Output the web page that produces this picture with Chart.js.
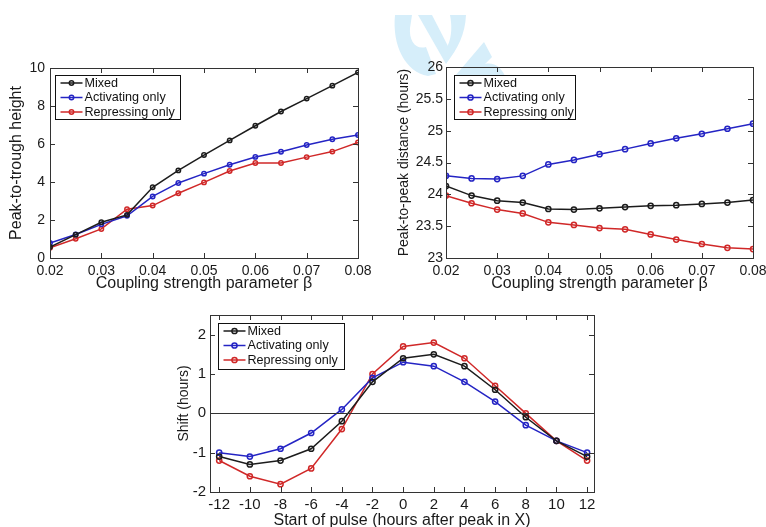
<!DOCTYPE html>
<html>
<head>
<meta charset="utf-8">
<title>Coupling and pulse response</title>
<script src="https://cdn.jsdelivr.net/npm/chart.js@4.4.1/dist/chart.umd.min.js"></script>
<style>
    body { margin: 0; width: 766px; height: 527px; background: #fff; position: relative; overflow: hidden; }
    canvas { position: absolute; }
    #heightChart { left: 0; top: 50px; }
    #distanceChart { left: 383px; top: 50px; }
    #shiftChart { left: 160px; top: 300px; }
    #logo { position: absolute; left: 0; top: 0; }
</style>
</head>
<body>
<svg id="logo" width="766" height="80">
    <g fill="#d6eefa">
        <path d="M395,15 C392,45 405,72 428,76 L436,74 L426,47 C415,50 409,40 410,28 L412,15 Z"/>
        <path d="M418,15 L432,15 L450,50 L446,64 Z"/>
        <path d="M450,15 L466,15 C465,35 458,48 446,64 L448,45 C452,36 452,25 450,15 Z"/>
        <path d="M455,76 L484,42 L492,57 L485,64 C495,62 501,68 505,76 Z"/>
    </g>
</svg>
<canvas id="heightChart" width="375" height="250"></canvas>
<canvas id="distanceChart" width="384" height="250"></canvas>
<canvas id="shiftChart" width="445" height="232"></canvas>

<script>
// Coupling strength sweep (top two panels)
const betaValues = [0.02, 0.025, 0.03, 0.035, 0.04, 0.045, 0.05, 0.055, 0.06, 0.065, 0.07, 0.075, 0.08];
const betaTicks = [0.02, 0.03, 0.04, 0.05, 0.06, 0.07, 0.08];

const heightMixed = [0.58, 1.23, 1.88, 2.27, 3.72, 4.61, 5.42, 6.19, 6.96, 7.71, 8.39, 9.07, 9.77];
const heightActivating = [0.79, 1.24, 1.77, 2.22, 3.24, 3.95, 4.44, 4.91, 5.32, 5.59, 5.95, 6.25, 6.47];
const heightRepressing = [0.54, 1.01, 1.53, 2.57, 2.76, 3.41, 3.98, 4.58, 5.0, 5.0, 5.31, 5.6, 6.08];
const heightTicks = [0, 2, 4, 6, 8, 10];

const distanceMixed = [24.13, 23.98, 23.9, 23.87, 23.77, 23.76, 23.78, 23.8, 23.82, 23.83, 23.85, 23.87, 23.91];
const distanceActivating = [24.29, 24.25, 24.24, 24.29, 24.47, 24.54, 24.63, 24.71, 24.8, 24.88, 24.95, 25.03, 25.11];
const distanceRepressing = [23.98, 23.86, 23.76, 23.7, 23.56, 23.52, 23.47, 23.45, 23.37, 23.29, 23.22, 23.16, 23.14];
const distanceTicks = [23, 23.5, 24, 24.5, 25, 25.5, 26];

// Pulse timing sweep (bottom panel)
const pulseStarts = [-12, -10, -8, -6, -4, -2, 0, 2, 4, 6, 8, 10, 12];
const shiftMixed = [-1.1, -1.3, -1.2, -0.9, -0.2, 0.8, 1.4, 1.5, 1.2, 0.6, -0.1, -0.7, -1.1];
const shiftActivating = [-1.0, -1.1, -0.9, -0.5, 0.1, 0.9, 1.3, 1.2, 0.8, 0.3, -0.3, -0.7, -1.0];
const shiftRepressing = [-1.2, -1.6, -1.8, -1.4, -0.4, 1.0, 1.7, 1.8, 1.4, 0.7, 0.0, -0.7, -1.2];
const shiftTicks = [-2, -1, 0, 1, 2];

const seriesNames = ['Mixed', 'Activating only', 'Repressing only'];
const seriesColors = ['#1c1c1c', '#2424c4', '#d02828'];

Chart.defaults.font.family = '"Liberation Sans", Arial, Helvetica, sans-serif';
Chart.defaults.color = '#1a1a1a';

function makeDatasets(xs, ys, radius) {
    return ys.map(function (values, i) {
        return {
            label: seriesNames[i],
            data: values.map(function (v, j) { return { x: xs[j], y: v }; }),
            borderColor: seriesColors[i],
            backgroundColor: 'rgba(255,255,255,0)',
            pointBackgroundColor: 'rgba(255,255,255,0)',
            pointBorderColor: seriesColors[i],
            pointRadius: radius,
            pointBorderWidth: 1.5,
            borderWidth: 1.5,
            tension: 0
        };
    });
}

// Box around the axes with inward tick marks on all four sides, zero line and boxed legend
const framePlugin = {
    id: 'frame',
    afterDraw(chart, args, opts) {
        const ctx = chart.ctx;
        const area = chart.chartArea;
        const xs = chart.scales.x;
        const ys = chart.scales.y;
        const tl = 5;
        ctx.save();
        ctx.strokeStyle = '#333';
        ctx.lineWidth = 1;

        if (opts.zeroLine) {
            const y0 = Math.round(ys.getPixelForValue(0)) + 0.5;
            ctx.beginPath();
            ctx.moveTo(area.left, y0);
            ctx.lineTo(area.right, y0);
            ctx.stroke();
        }

        ctx.beginPath();
        xs.ticks.forEach(function (t) {
            const px = Math.round(xs.getPixelForValue(t.value)) + 0.5;
            ctx.moveTo(px, area.bottom);
            ctx.lineTo(px, area.bottom - tl);
            ctx.moveTo(px, area.top);
            ctx.lineTo(px, area.top + tl);
        });
        ys.ticks.forEach(function (t) {
            const py = Math.round(ys.getPixelForValue(t.value)) + 0.5;
            ctx.moveTo(area.left, py);
            ctx.lineTo(area.left + tl, py);
            ctx.moveTo(area.right, py);
            ctx.lineTo(area.right - tl, py);
        });
        ctx.stroke();
        ctx.strokeRect(Math.round(area.left) + 0.5, Math.round(area.top) + 0.5,
            Math.round(area.right - area.left), Math.round(area.bottom - area.top));

        // legend
        const bx = Math.round(area.left + opts.legendX) + 0.5;
        const by = Math.round(area.top + opts.legendY) + 0.5;
        ctx.fillStyle = '#fff';
        ctx.fillRect(bx, by, opts.legendW, opts.legendH);
        ctx.strokeStyle = '#111';
        ctx.strokeRect(bx, by, opts.legendW, opts.legendH);
        ctx.font = '12.6px "Liberation Sans", Arial, sans-serif';
        ctx.textBaseline = 'middle';
        chart.data.datasets.forEach(function (ds, i) {
            const ry = by + 7.5 + i * 14.5;
            ctx.strokeStyle = ds.borderColor;
            ctx.lineWidth = 1.5;
            ctx.beginPath();
            ctx.moveTo(bx + 5, ry);
            ctx.lineTo(bx + 27, ry);
            ctx.stroke();
            ctx.beginPath();
            ctx.arc(bx + 16, ry, ds.pointRadius, 0, Math.PI * 2);
            ctx.stroke();
            ctx.fillStyle = '#111';
            ctx.fillText(ds.label, bx + 29, ry + 0.5);
        });
        ctx.restore();
    }
};

function makeChart(id, cfg) {
    return new Chart(document.getElementById(id), {
        type: 'line',
        data: { datasets: cfg.datasets },
        plugins: [framePlugin],
        options: {
            responsive: false,
            animation: false,
            layout: { padding: cfg.padding },
            plugins: {
                legend: { display: false },
                tooltip: { enabled: false },
                frame: cfg.frame
            },
            scales: {
                x: {
                    type: 'linear',
                    min: cfg.xMin,
                    max: cfg.xMax,
                    grid: { display: false, drawTicks: false },
                    border: { display: false },
                    afterBuildTicks: function (scale) {
                        scale.ticks = cfg.xTicks.map(function (v) { return { value: v }; });
                    },
                    afterFit: function (scale) {
                        scale.height = cfg.xHeight;
                        scale.paddingLeft = 0;
                        scale.paddingRight = 0;
                    },
                    ticks: {
                        font: { size: cfg.tickSize },
                        padding: cfg.xTickPad,
                        maxRotation: 0,
                        callback: cfg.xFormat
                    },
                    title: {
                        display: true,
                        text: cfg.xTitle,
                        font: { size: 16 },
                        padding: { top: 0, bottom: cfg.xTitlePad }
                    }
                },
                y: {
                    type: 'linear',
                    min: cfg.yMin,
                    max: cfg.yMax,
                    grid: { display: false, drawTicks: false },
                    border: { display: false },
                    afterBuildTicks: function (scale) {
                        scale.ticks = cfg.yTicks.map(function (v) { return { value: v }; });
                    },
                    afterFit: function (scale) {
                        scale.width = cfg.yWidth;
                        scale.paddingTop = 0;
                        scale.paddingBottom = 0;
                    },
                    ticks: {
                        font: { size: cfg.tickSize },
                        padding: cfg.yTickPad,
                        callback: function (v) { return String(v); }
                    },
                    title: {
                        display: true,
                        text: cfg.yTitle,
                        font: { size: cfg.yTitleSize },
                        padding: { top: cfg.yTitlePad, bottom: 0 }
                    }
                }
            }
        }
    });
}

makeChart('heightChart', {
    datasets: makeDatasets(betaValues, [heightMixed, heightActivating, heightRepressing], 2.2),
    padding: { left: 0, right: 17, top: 18, bottom: 0 },
    xMin: 0.02, xMax: 0.08, xTicks: betaTicks, xHeight: 42, xTickPad: 5, xTitlePad: 7,
    xFormat: function (v) { return v.toFixed(2); },
    xTitle: 'Coupling strength parameter \u03b2',
    yMin: 0, yMax: 10, yTicks: heightTicks, yWidth: 50, yTickPad: 5,
    yTitle: 'Peak-to-trough height', yTitleSize: 16, yTitlePad: 7,
    tickSize: 14,
    frame: { legendX: 5, legendY: 7, legendW: 125, legendH: 44 }
});

makeChart('distanceChart', {
    datasets: makeDatasets(betaValues, [distanceMixed, distanceActivating, distanceRepressing], 2.6),
    padding: { left: 0, right: 14, top: 17, bottom: 0 },
    xMin: 0.02, xMax: 0.08, xTicks: betaTicks, xHeight: 42, xTickPad: 5, xTitlePad: 7,
    xFormat: function (v) { return v.toFixed(2); },
    xTitle: 'Coupling strength parameter \u03b2',
    yMin: 23, yMax: 26, yTicks: distanceTicks, yWidth: 63, yTickPad: 3,
    yTitle: 'Peak-to-peak distance (hours)', yTitleSize: 14, yTitlePad: 13,
    tickSize: 14,
    frame: { legendX: 8, legendY: 8, legendW: 121, legendH: 44 }
});

makeChart('shiftChart', {
    datasets: makeDatasets(pulseStarts, [shiftMixed, shiftActivating, shiftRepressing], 2.6),
    padding: { left: 0, right: 11, top: 15, bottom: 0 },
    xMin: -12.6, xMax: 12.45, xTicks: pulseStarts, xHeight: 40, xTickPad: 4, xTitlePad: 2,
    xFormat: function (v) { return String(v); },
    xTitle: 'Start of pulse (hours after peak in X)',
    yMin: -2, yMax: 2.5, yTicks: shiftTicks, yWidth: 50, yTickPad: 4,
    yTitle: 'Shift (hours)', yTitleSize: 14, yTitlePad: 16,
    tickSize: 15,
    frame: { zeroLine: true, legendX: 8, legendY: 8, legendW: 126, legendH: 46 }
});
</script>
</body>
</html>
